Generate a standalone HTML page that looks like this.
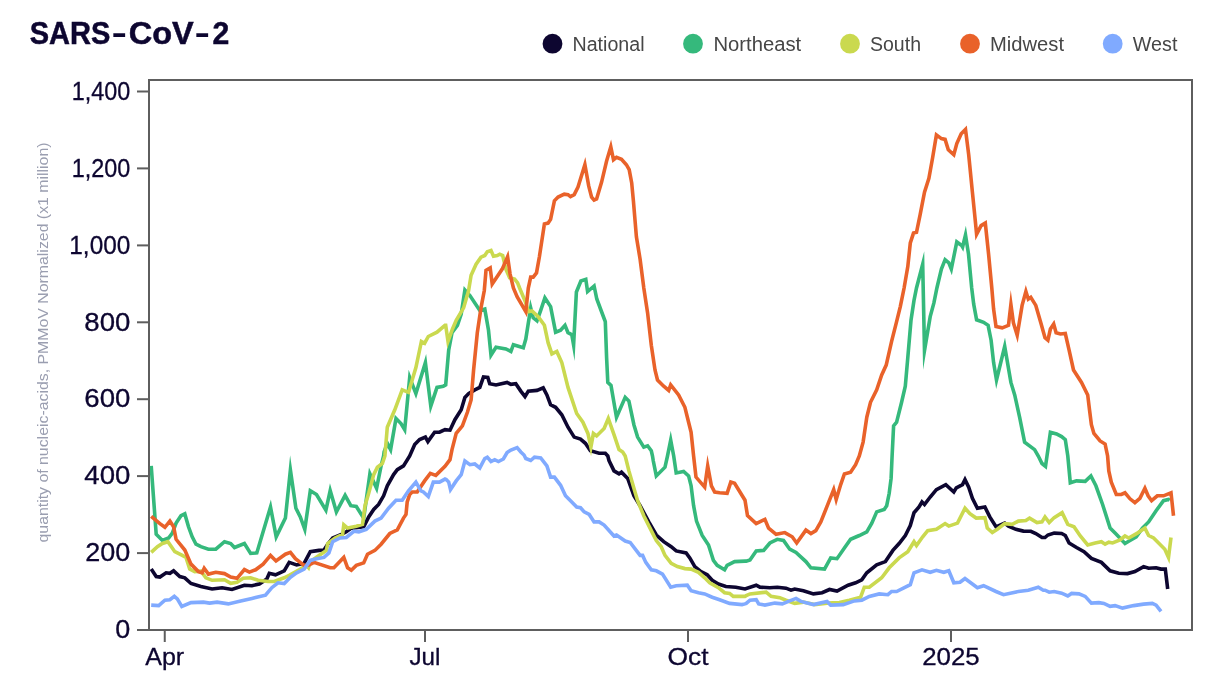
<!DOCTYPE html>
<html><head><meta charset="utf-8"><title>SARS-CoV-2</title>
<style>
html,body{margin:0;padding:0;background:#fff;}
body{width:1210px;height:676px;overflow:hidden;font-family:"Liberation Sans",sans-serif;}
svg{display:block;}
text{font-family:"Liberation Sans",sans-serif;}
</style></head><body>
<svg width="1210" height="676" viewBox="0 0 1210 676" style="will-change:transform">
<rect width="1210" height="676" fill="#ffffff"/>
<text font-size="31.5" font-weight="bold" fill="#0d0630" stroke="#0d0630" stroke-width="0.5"><tspan x="29.7" y="44.2" textLength="80.6" lengthAdjust="spacingAndGlyphs">SARS</tspan><tspan x="111.6" y="43.4" stroke="none" textLength="15.5" lengthAdjust="spacingAndGlyphs">-</tspan><tspan x="128.8" y="44.2" textLength="65" lengthAdjust="spacingAndGlyphs">CoV</tspan><tspan x="194.5" y="43.4" stroke="none" textLength="15.5" lengthAdjust="spacingAndGlyphs">-</tspan><tspan x="212.5" y="44.2" textLength="16.8" lengthAdjust="spacingAndGlyphs">2</tspan></text>
<circle cx="552.5" cy="43.7" r="9.9" fill="#0d0630"/><text x="572.5" y="50.7" font-size="20" fill="#464646" textLength="72" lengthAdjust="spacingAndGlyphs">National</text>
<circle cx="693" cy="43.7" r="9.9" fill="#35b97c"/><text x="713.4" y="50.7" font-size="20" fill="#464646" textLength="87.8" lengthAdjust="spacingAndGlyphs">Northeast</text>
<circle cx="850" cy="43.7" r="9.9" fill="#cad94f"/><text x="870" y="50.7" font-size="20" fill="#464646" textLength="51" lengthAdjust="spacingAndGlyphs">South</text>
<circle cx="970" cy="43.7" r="9.9" fill="#e9622a"/><text x="990" y="50.7" font-size="20" fill="#464646" textLength="74" lengthAdjust="spacingAndGlyphs">Midwest</text>
<circle cx="1112.7" cy="43.7" r="9.9" fill="#80aaff"/><text x="1132.8" y="50.7" font-size="20" fill="#464646" textLength="44.6" lengthAdjust="spacingAndGlyphs">West</text>
<text transform="translate(47.6,542.5) rotate(-90)" font-size="15" fill="#9a9eb0" textLength="400" lengthAdjust="spacingAndGlyphs">quantity of nucleic-acids, PMMoV Normalized (x1 million)</text>
<g>
<polyline fill="none" stroke="#0d0630" stroke-width="3.6" stroke-linejoin="miter" stroke-miterlimit="20" points="151.2,569.1 156.2,576.5 159.9,577 166.1,572.8 169.9,573.3 173.6,570.8 179.8,576.5 184.8,577.8 191,583.5 200.9,586.5 212.1,589 222.1,587.7 232,589.5 244.4,585.2 251.9,585.7 259.3,584 266.8,579 269.3,573.3 275.5,574.8 284.2,570.8 289.2,562.4 296.6,564.9 304.1,563.4 310.3,551.7 319,550.4 324,550 327.7,544.2 332.7,538 341.4,534.3 346.3,531.8 351.3,528.1 363.7,526.8 368.7,516.9 373.7,509.4 378.6,504.5 383.6,495.8 387.3,485.8 393.6,474.6 397.3,469.7 403.5,465.9 409.7,456 414.7,444.6 419.6,439.6 425.4,437.1 427.9,441.6 434.6,432.2 439.5,432.2 445,429.7 450,430.2 454.9,419.7 461.2,409.8 464.9,397.4 468.6,393.6 474.8,389.9 479.8,387.4 483.5,377 487.8,377.5 489.7,383.7 496,384.9 507.1,382.4 510.9,384.4 515.8,383.7 520.8,391.1 525,396.6 528.3,391.1 537,390.4 543.2,387.9 546.9,394.9 550.6,404.8 555.6,407.3 561.8,414.8 568,427.2 574.2,437.1 580.5,439.1 585.4,443.3 590.4,450.8 599.1,453.3 605.3,453.3 607.8,456 609,460.5 614,470.9 619,473.9 621.5,472.2 627.7,478.4 633.9,495.8 640.1,505.7 648.8,521.9 656.3,535 663.7,541.7 671.2,546.7 676.2,550.9 686.1,552.9 689.8,557.9 694.8,566.6 701,571.6 707.2,574.8 712.2,580.3 718.4,584 725.9,586.5 735.8,587.2 745,589 756.2,585.2 759.9,587.2 769.9,587.7 777.3,587.2 786,588.2 791,590.2 794.7,589 803.4,590.7 813.4,593.9 822.1,592.7 829.5,589.5 837,591 848.1,585.2 855.6,582.8 861.8,579.8 866.8,572.8 876.7,564.9 885.4,561.6 892.9,550.4 899.1,543.5 905.3,535.5 910.3,525.6 914,512.7 919,507 922,502 924.5,504.5 930.2,497 936.4,489.6 945.8,484.6 953.8,492 956.3,487.8 962.5,484.6 965,479.6 968.7,487.1 972.4,498.3 977.4,508.2 984.9,507 989.8,516.9 996,526.8 1004.7,523.1 1008.5,526.1 1015.9,529.3 1023.4,531.1 1030.8,531.3 1035.8,533.5 1042,537.5 1045,537.5 1047.9,535 1054.2,533.1 1061.6,533.5 1065.3,535.5 1069.1,543 1076.5,547.5 1084,551.7 1091.4,558.4 1101.4,562.4 1110.1,570.8 1118.8,573.3 1127.5,573.6 1134.9,571.6 1143.6,566.6 1148.6,568.3 1156.1,567.8 1161,569.1 1165.3,569.1 1167.7,589"/>
<polyline fill="none" stroke="#35b97c" stroke-width="3.6" stroke-linejoin="miter" stroke-miterlimit="20" points="151.2,465.9 156.2,534.3 162.4,540.5 168.6,538 172.3,533.1 176.1,523.1 181,515.7 184.8,513.9 188.5,526.8 192.2,536.8 196,544.2 200.9,546.7 208.4,549.2 215.8,549.2 224.5,541.7 230.7,543.5 234.5,547.5 244.4,543.5 250.6,553.4 256.8,552.9 270.5,507 276.2,536.8 285.4,518.1 290.4,469.9 295.9,508.2 300.3,516.9 304.8,529.3 310.3,490.8 316.5,494.5 325.9,510.2 330.2,490.5 336.4,511.9 345.1,495.3 350.8,505.7 356.3,506.5 363.7,518.1 369.9,473.9 376.6,488.3 381.1,465.9 383.6,456 384.1,452 387.3,443.3 390.6,449.6 396,418.5 401,423.5 404.7,429.7 409.7,377.5 415.9,393.6 425.4,362.6 430.8,406.1 437,387.4 443.3,386.2 445.7,384.9 448.7,350.1 452,332.7 457.4,325.3 461.2,314.1 464.9,290 469.9,295.5 479.8,310.4 484.8,309.1 488.5,330.3 491,355.1 496,347.2 505.9,348.9 510.9,351.4 513.4,344.7 523.3,347.7 525.8,339 530.7,307.9 533.2,317.8 537,320.8 540.7,310.4 544.9,297.9 550.6,306.6 555.6,332.2 560.6,330.3 565,325.3 568,332.7 571.8,334.7 573.6,345 576.4,292 580.9,281 585.8,279.3 587.6,291.5 594.1,286 596.8,299 604.1,318.5 605.3,321.6 606.6,357.6 607.8,382.4 611,385.4 616.5,417.2 625.2,397.4 628.9,401.1 633.9,424.7 637.6,437.1 643.8,447.1 647.6,445.8 651.3,450.8 652.5,456 653.3,461 656.3,475.9 665,467.2 667.5,456 670.7,440.1 673.7,456 676.2,472.9 683.6,471.4 688.6,475.9 691.1,485.8 693.6,505.7 696.5,521.1 702.2,535.5 708.5,545 713.4,560.4 717.2,565.4 724.6,569.8 727.1,565.4 734.6,561.6 745,561.1 746.2,561.1 750,559.9 756.2,550.9 763.6,550.4 769.9,543 777.3,539.3 783.5,540.5 789.7,549.2 796,552.4 805.9,561.6 810.9,567.8 824.5,569.1 830.7,557.9 837,558.7 844.4,548 850.6,539.3 859.3,535.5 866.8,531.8 871.8,523.1 876.7,511.9 884.2,509.4 886.7,505.7 889.2,493.3 891.1,478.4 892.1,456 893.6,425.9 896.6,422.2 901.6,402.3 905.3,386.2 907.8,357.6 911,320.3 914,300.4 916.5,288 922.7,264.2 924.5,350.6 930.2,316.6 933.9,302.9 936.9,288 941.4,269.1 945.1,259.7 948.8,262.9 951.3,269.1 956.8,241.8 961.7,245.5 962.6,247 965.5,235 968.5,254 971.7,288 973.7,304.2 976.6,319.8 983.6,322.3 988.1,325.3 991.1,340.2 993.6,362.6 996.5,380 1004.7,346.4 1010.9,382.4 1014.7,394.9 1019.6,417.2 1024.6,442.1 1034.6,449.6 1038.3,456 1042,463.5 1045.5,466.4 1050.4,432.2 1056.6,433.9 1061.6,436.6 1065.3,439.6 1067.8,456 1070.3,482.8 1076.5,480.9 1085.2,481.4 1090.9,475.9 1095.9,485.8 1102.6,504.5 1110.1,528.1 1116.3,534.3 1125,543.5 1128.7,541.3 1136.2,536.8 1142.4,528.1 1148.6,521.9 1156.1,510.7 1163.5,500.7 1168.5,499.5 1169.7,500.2"/>
<polyline fill="none" stroke="#cad94f" stroke-width="3.6" stroke-linejoin="miter" stroke-miterlimit="20" points="151.2,552.4 157.4,546.7 162.4,543.5 167.9,541.7 174.8,551.7 182.3,555.4 186,557.4 189.7,569.1 194.7,571.6 200.9,571.1 205.9,577.8 212.1,580.3 224.5,579.8 230.7,583.3 237,582.3 243.2,578.3 250.6,577.8 258.1,580.3 268,581.5 274.2,581.5 284.2,577.8 289.2,575.3 299.1,569.8 306.6,565.4 308.5,567.6 310.3,561.6 319,555.4 326.4,550.4 327.7,543.5 335.1,538 342.6,534.3 343.8,524.8 347.6,528.1 356.3,526.3 362.5,524.4 365,505.7 368.7,493.3 373.7,474.6 377.4,467.2 382.4,463.5 384.9,456 387.3,427.2 394.8,409.8 402.2,389.9 408.5,392.4 415.9,367.5 421.4,341.4 424.6,343.2 428.3,336.5 437,332.2 445,325.3 445.7,325.3 448,341.4 452.5,329 456.2,320.3 463.6,307.9 468.6,290.5 471.1,275.3 476.1,264.2 481,257.2 484.8,255.5 487.3,251.7 491,250.5 493.5,256.2 497.2,255.5 499.7,254.2 502.7,255.5 505.9,269.1 509.6,277.8 514.6,279.1 517.6,282.8 519.6,288 525.8,302.9 528.3,311.6 532,310.9 538.2,316.6 544.4,325.3 548.1,342.7 551.9,353.9 556.8,351.4 561.8,362.6 568,387.4 576.7,413.5 582.9,422.2 587.9,433.4 590.9,447.1 593.4,433.4 596.6,435.9 604.1,428.4 608.3,418.5 614,434.6 619,449.6 622.7,452 625.2,456 628.9,470.9 633.9,488.3 637.6,500.7 643.8,515.7 651.3,530.6 656.3,540.5 661.2,546.7 665,555.4 671.2,563.4 677.4,566.6 684.9,568.6 691.1,569.1 698.5,572.3 704.7,577.8 709.7,582.8 718.4,587.7 724.6,592.7 729.6,593.4 733.3,596.4 745,596.4 746.2,595.7 750,593.9 766.1,592.2 771.1,596.4 779.8,597.7 786,600.2 794.7,603.4 803.4,602.1 814.6,604.6 827,603.1 839.4,602.6 849.4,600.2 860.6,597.2 864.3,587.2 869.3,587.2 881.7,577.8 889.2,567.8 899.1,557.9 907.8,551.7 914,541.7 916.5,545.5 922.7,536.8 927.7,530.6 936.4,529.3 945.1,523.6 948.8,526.1 957.5,523.1 965,508.2 969.9,513.7 976.2,518.1 984.9,517.6 987.3,528.1 992.3,532.6 997.3,529.3 1004.7,523.6 1012.2,524.4 1018.4,521.1 1025.9,520.6 1029.6,518.1 1037,522.6 1042,521.9 1045,516.9 1049.2,522.6 1054.2,517.6 1062.1,512.7 1067.8,524.4 1074,526.8 1080.3,536 1087.7,545 1095.2,543 1101.4,541.7 1105.1,544.2 1108.8,542.2 1112.6,543 1120,540 1125,536 1128.7,538 1137.4,533.1 1144.9,528.1 1148.6,535.5 1153.6,538 1158.6,543 1164.8,549.2 1168.5,557.4 1171,537.5"/>
<polyline fill="none" stroke="#e9622a" stroke-width="3.6" stroke-linejoin="miter" stroke-miterlimit="20" points="151.2,516.4 159.9,523.6 164.9,527.3 169.9,521.1 173.6,526.8 176.1,539.3 184.8,550 191,564.1 198.4,571.6 202.2,572.8 204.2,568.3 208.4,574.1 215.8,572.3 224.5,573.6 230.7,577 237,578.3 244.4,569.6 249.4,572.1 255.6,569.8 263.1,564.1 270.5,555.4 276,560.9 285.4,554.2 290.4,552.4 295.4,558.7 304.1,565.4 309,564.9 314,562.4 330.2,567.8 333.9,567.8 343.8,557.4 347.6,567.8 351.3,570.3 356.3,565.4 363.7,562.9 367.5,554.2 374.9,550.4 381.1,544.2 389.8,533.5 397.3,529.8 403.5,518.1 406,514.4 407.2,502 409.7,494.5 412.2,492 417.2,492 424.6,480.9 430.3,473.4 435.8,475.4 445,466.4 450,459.7 452,449.6 456.2,433.4 462.4,425.9 467.4,412.3 471.1,399.8 473.6,370 477.3,332.7 481,307.9 484.3,290.5 486,270.4 490.2,267.9 492.2,284 502.2,269.1 507.6,256.7 510.1,274.1 513.4,288 517.1,296.7 525.8,311.6 528.3,288 530.7,277.1 533.2,277.1 536.5,272.9 539.4,256.7 544.4,223.9 548.1,223.1 550.6,219.4 554.4,200.8 558.1,197.1 564.3,194.1 568,194.6 570.5,196.6 574.2,194.6 578,187.1 584.9,164.7 588.7,185.9 591.6,197.1 594.1,200 596.6,199 601.6,182.1 606.6,161 610.8,146.8 613.5,159.8 616.5,157.3 621.5,159.3 626.4,164.7 629.2,169.7 631.7,182.9 633.4,200.8 636.4,236.8 640.1,259.2 643.8,288 647.6,312.9 651.3,345.2 655,370 657.5,380 663.7,386.2 668.7,390.4 670.7,384.9 678.6,394.9 684.9,407.3 688.6,422.2 691.1,432.2 693.6,456 696,477.1 704.7,487.1 707.7,465.9 711.4,485.8 714.7,492 719.6,492.8 727.1,493.3 730.8,482.1 734.6,483.3 745,500.2 747.5,515.7 756.2,523.6 764.9,519.4 768.6,528.1 776.1,534.3 784.8,532.6 792.2,536.8 796.7,543 805.9,530.1 810.9,533.5 815.8,530.6 820.8,521.9 828.3,503.2 833.7,489.6 836.2,499.5 840.7,484.6 844.4,473.9 850.6,472.2 855.6,464.7 859.3,456 863.1,442.1 866.8,417.2 870.5,402.3 876.7,389.9 881.7,375 886.2,365.1 891.6,341.4 896.6,321.6 900.3,306.6 904.1,288 907.8,266.6 910.3,243 913.5,233.1 916.5,232.3 920.2,214.4 924.5,192.1 928.9,178.4 932.7,157.3 936.4,134.9 941.4,138.6 945.1,139.4 948.3,149.8 953.8,154.8 956.8,143.6 961.2,133.7 965.5,129.4 968.7,154.8 972.4,192.1 974.9,216.9 976.6,234.3 981.1,225.6 985.3,223.1 988.6,254.2 991.8,288 993.6,309.1 996,326.5 1002.2,327.8 1008.5,325.3 1010.9,304.4 1013.4,322.8 1017.2,335.2 1022.1,305.4 1025.9,291.5 1028.3,299.2 1030.8,297.4 1035.8,305.4 1040.8,322.8 1045,337.7 1047.9,340.2 1050.4,329 1053.7,324 1056.1,332.7 1060.4,334 1065.3,333.5 1069.1,350.1 1073.5,370 1081.5,382.4 1087.7,394.9 1089.5,409.8 1091.4,424.7 1093.9,433.4 1100.1,440.9 1105.1,444.1 1107.6,456 1108.8,470.9 1111.3,482.1 1116.3,494.5 1121.3,494.5 1125,492.8 1130,498.8 1134.9,502.7 1139.9,498.3 1144.9,488.3 1148.1,495.8 1151.6,500.7 1157.3,495.8 1163.5,495.8 1171,492.8 1173.5,515.7"/>
<polyline fill="none" stroke="#80aaff" stroke-width="3.6" stroke-linejoin="miter" stroke-miterlimit="20" points="151.2,605.1 158.7,605.6 164.9,600.2 169.9,599.7 174.3,596.4 177.3,598.9 181.8,606.4 191,602.6 203.4,602.1 209.6,603.1 217.1,602.1 228.3,603.9 240.7,600.9 251.9,598.4 265.5,595.2 271.8,587.7 278,582.8 284.2,583.5 290.4,577.3 296.6,572.8 304.1,569.1 310.3,560.4 316.5,558.7 324,557.4 328.9,552.9 332.7,541.7 340.1,538 346.3,537.5 353.8,531.3 358.8,531.8 366.2,529.3 374.9,521.1 381.1,518.1 388.6,508.2 396,500.2 402.2,500.2 408.5,490.8 415.9,482.1 420.9,490.8 423.4,492 428.3,496.5 433.3,482.1 439.5,482.1 445,479.1 446.2,479.6 448.7,482.1 450.5,489.6 456.2,480.9 461.2,474.6 464.9,461 469.9,464.7 474.8,464 479.8,467.9 484.8,458.5 487.3,457.2 491,461.5 494.7,459.7 498.4,461.5 503.4,459 507.1,452.5 510.9,450.1 517.1,447.6 520.8,452 524,455 525.8,458.5 530.7,460.5 534.5,457.2 540.7,458 546.9,465.9 550.6,477.1 554.4,477.1 560.6,485.3 565.5,495.8 570.5,500.7 576.7,507 580.5,507.7 584.2,511.9 589.2,514.4 594.1,521.9 599.1,521.9 604.1,525.1 614,536 616.5,535 625.2,541 630.2,542.5 640.1,555.4 642.6,555.4 645.8,562.4 651.3,569.8 656.3,570.8 662.5,574.1 670.7,587.2 676.2,585.7 687.3,585.2 691.1,590.7 698.5,592.7 704.7,593.9 712.2,597.2 719.6,599.7 729.6,603.4 742,604.6 745,603.9 746.2,603.4 750,600.2 756.2,599.7 758.7,603.9 764.9,605.1 774.8,603.1 782.3,603.9 788.5,601.4 796,598.4 800.9,601.4 813.4,604.6 827,601.4 830.7,605.1 843.2,604.6 854.4,600.9 861.8,600.2 869.3,596.4 879.2,593.9 887.9,594.7 891.6,591.5 896.6,591.5 910.3,584.7 914,572.8 922,569.8 930.2,572.3 936.4,570.3 943.8,572.3 948.8,570.8 953.8,582.8 960,582.3 965,578.5 977.4,587.7 983.6,585.7 996,591.5 1003.5,594.7 1018.4,591.5 1028.3,590.2 1038.3,587.2 1043.3,590.2 1045,590.2 1049.2,592.2 1054.2,591.5 1061.6,593.2 1067.8,595.9 1071.6,593.4 1079,593.9 1085.2,596.4 1091.4,603.1 1098.9,602.6 1103.9,603.4 1110.1,606.4 1115.1,605.6 1122.5,608.1 1133.7,605.6 1143.6,604.1 1152.3,603.4 1156.1,605.1 1161,611.3"/>
</g>
<rect x="149" y="80" width="1043" height="550" fill="none" stroke="#5e5e5e" stroke-width="2"/>
<line x1="137" x2="149" y1="630.0" y2="630.0" stroke="#5e5e5e" stroke-width="2"/><text x="115.3" y="638.2" font-size="25.5" fill="#0d0630" stroke="#0d0630" stroke-width="0.3" textLength="15" lengthAdjust="spacingAndGlyphs">0</text>
<line x1="137" x2="149" y1="553.1" y2="553.1" stroke="#5e5e5e" stroke-width="2"/><text x="85.3" y="561.3" font-size="25.5" fill="#0d0630" stroke="#0d0630" stroke-width="0.3" textLength="45" lengthAdjust="spacingAndGlyphs">200</text>
<line x1="137" x2="149" y1="476.1" y2="476.1" stroke="#5e5e5e" stroke-width="2"/><text x="84.3" y="484.3" font-size="25.5" fill="#0d0630" stroke="#0d0630" stroke-width="0.3" textLength="46" lengthAdjust="spacingAndGlyphs">400</text>
<line x1="137" x2="149" y1="399.2" y2="399.2" stroke="#5e5e5e" stroke-width="2"/><text x="84.3" y="407.4" font-size="25.5" fill="#0d0630" stroke="#0d0630" stroke-width="0.3" textLength="46" lengthAdjust="spacingAndGlyphs">600</text>
<line x1="137" x2="149" y1="322.3" y2="322.3" stroke="#5e5e5e" stroke-width="2"/><text x="84.3" y="330.5" font-size="25.5" fill="#0d0630" stroke="#0d0630" stroke-width="0.3" textLength="46" lengthAdjust="spacingAndGlyphs">800</text>
<line x1="137" x2="149" y1="245.4" y2="245.4" stroke="#5e5e5e" stroke-width="2"/><text x="69.3" y="253.6" font-size="25.5" fill="#0d0630" stroke="#0d0630" stroke-width="0.3" textLength="61" lengthAdjust="spacingAndGlyphs">1,000</text>
<line x1="137" x2="149" y1="168.4" y2="168.4" stroke="#5e5e5e" stroke-width="2"/><text x="71.7" y="176.6" font-size="25.5" fill="#0d0630" stroke="#0d0630" stroke-width="0.3" textLength="58.6" lengthAdjust="spacingAndGlyphs">1,200</text>
<line x1="137" x2="149" y1="91.5" y2="91.5" stroke="#5e5e5e" stroke-width="2"/><text x="71.8" y="99.7" font-size="25.5" fill="#0d0630" stroke="#0d0630" stroke-width="0.3" textLength="58.5" lengthAdjust="spacingAndGlyphs">1,400</text>
<line x1="164.75" x2="164.75" y1="630" y2="642" stroke="#5e5e5e" stroke-width="2"/><text x="145.2" y="664.8" font-size="24.5" fill="#0d0630" stroke="#0d0630" stroke-width="0.3" textLength="39" lengthAdjust="spacingAndGlyphs">Apr</text>
<line x1="425" x2="425" y1="630" y2="642" stroke="#5e5e5e" stroke-width="2"/><text x="409.5" y="664.8" font-size="24.5" fill="#0d0630" stroke="#0d0630" stroke-width="0.3" textLength="31" lengthAdjust="spacingAndGlyphs">Jul</text>
<line x1="688" x2="688" y1="630" y2="642" stroke="#5e5e5e" stroke-width="2"/><text x="667.5" y="664.8" font-size="24.5" fill="#0d0630" stroke="#0d0630" stroke-width="0.3" textLength="41" lengthAdjust="spacingAndGlyphs">Oct</text>
<line x1="951" x2="951" y1="630" y2="642" stroke="#5e5e5e" stroke-width="2"/><text x="922.2" y="664.8" font-size="24.5" fill="#0d0630" stroke="#0d0630" stroke-width="0.3" textLength="57.5" lengthAdjust="spacingAndGlyphs">2025</text>
</svg>
</body></html>
